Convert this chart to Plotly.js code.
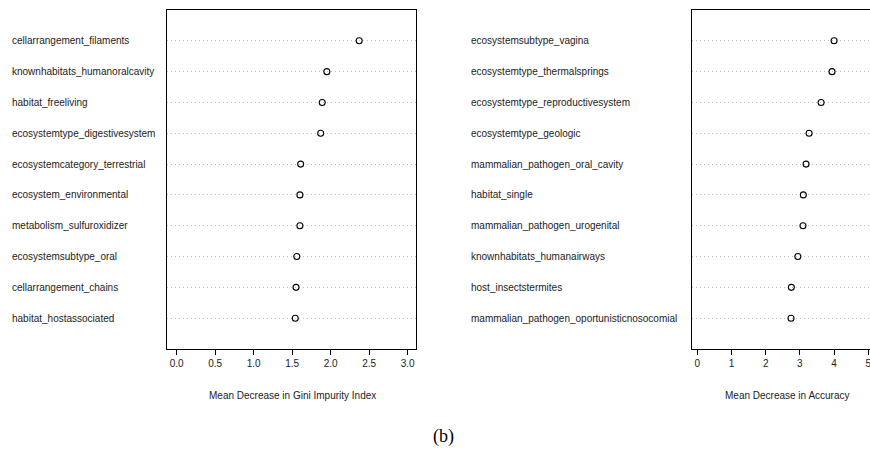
<!DOCTYPE html>
<html>
<head>
<meta charset="utf-8">
<script src="https://cdn.plot.ly/plotly-3.0.1.min.js"></script>
<style>html,body{margin:0;padding:0;background:#fff;}#chart{width:870px;height:451px;}</style>
</head>
<body>
<div id="chart"></div>
<script>
// Left panel: Mean Decrease in Gini Impurity Index (top to bottom)
const giniLabels = [
  "cellarrangement_filaments",
  "knownhabitats_humanoralcavity",
  "habitat_freeliving",
  "ecosystemtype_digestivesystem",
  "ecosystemcategory_terrestrial",
  "ecosystem_environmental",
  "metabolism_sulfuroxidizer",
  "ecosystemsubtype_oral",
  "cellarrangement_chains",
  "habitat_hostassociated"
];
const giniValues = [2.37, 1.95, 1.89, 1.87, 1.61, 1.60, 1.60, 1.56, 1.55, 1.54];

// Right panel: Mean Decrease in Accuracy (top to bottom)
const accLabels = [
  "ecosystemsubtype_vagina",
  "ecosystemtype_thermalsprings",
  "ecosystemtype_reproductivesystem",
  "ecosystemtype_geologic",
  "mammalian_pathogen_oral_cavity",
  "habitat_single",
  "mammalian_pathogen_urogenital",
  "knownhabitats_humanairways",
  "host_insectstermites",
  "mammalian_pathogen_oportunisticnosocomial"
];
const accValues = [4.00, 3.94, 3.62, 3.27, 3.18, 3.10, 3.09, 2.94, 2.75, 2.74];

const giniTicks = [0.0, 0.5, 1.0, 1.5, 2.0, 2.5, 3.0];
const giniTickText = ["0.0", "0.5", "1.0", "1.5", "2.0", "2.5", "3.0"];
const accTicks = [0, 1, 2, 3, 4, 5];
const accTickText = ["0", "1", "2", "3", "4", "5"];

const xTitleGini = "Mean Decrease in Gini Impurity Index";
const xTitleAcc = "Mean Decrease in Accuracy";
const caption = "(b)";

const n = giniLabels.length;
const rowPos = giniLabels.map((_, i) => n - i);

const FONT = "Liberation Sans, Arial, Helvetica, sans-serif";
const FS = 10;
const W = 870, H = 451;

const marker = {symbol: "circle-open", size: 6, color: "#000", line: {width: 1.1, color: "#000"}};

const traces = [
  {type: "scatter", mode: "markers", x: giniValues, y: rowPos, xaxis: "x", yaxis: "y",
   marker: marker, hoverinfo: "x+y", showlegend: false},
  {type: "scatter", mode: "markers", x: accValues, y: rowPos, xaxis: "x2", yaxis: "y2",
   marker: marker, hoverinfo: "x+y", showlegend: false}
];

const yTop = 10, yBot = 349;
const yDomain = [1 - yBot / H, 1 - yTop / H];

const gridAxis = (anchor, mirror) => ({
  domain: yDomain, range: [0, 11], anchor: anchor,
  tickvals: rowPos, showticklabels: false, ticks: "",
  showgrid: true, gridcolor: "#bdbdbd", griddash: "1px,3px", gridwidth: 1,
  zeroline: false, showline: true, linecolor: "#000", linewidth: 1, mirror: mirror,
  fixedrange: true
});

const xAxisBase = (domain, range, vals, text, anchor) => ({
  domain: domain, range: range, anchor: anchor,
  tickvals: vals, ticktext: text, ticks: "outside", ticklen: 5, tickwidth: 1, tickcolor: "#000",
  tickfont: {family: FONT, size: FS, color: "#222"}, ticklabeloverflow: "allow",
  showgrid: false, zeroline: false, showline: true, linecolor: "#000", linewidth: 1,
  mirror: true, fixedrange: true
});

const annotations = [];
giniLabels.forEach((t, i) => annotations.push({
  text: t, xref: "paper", x: 10 / W, xanchor: "left", yref: "y", y: rowPos[i], yanchor: "middle",
  showarrow: false, font: {family: FONT, size: FS, color: "#222"}
}));
accLabels.forEach((t, i) => annotations.push({
  text: t, xref: "paper", x: 469 / W, xanchor: "left", yref: "y2", y: rowPos[i], yanchor: "middle",
  showarrow: false, font: {family: FONT, size: FS, color: "#222"}
}));
annotations.push({text: xTitleGini, xref: "paper", x: 292 / W, xanchor: "center",
  yref: "paper", y: 1 - 395 / H, yanchor: "middle", showarrow: false,
  font: {family: FONT, size: FS, color: "#222"}});
annotations.push({text: xTitleAcc, xref: "paper", x: 787 / W, xanchor: "center",
  yref: "paper", y: 1 - 395 / H, yanchor: "middle", showarrow: false,
  font: {family: FONT, size: FS, color: "#222"}});
annotations.push({text: caption, xref: "paper", x: 443 / W, xanchor: "center",
  yref: "paper", y: 1 - 436 / H, yanchor: "middle", showarrow: false,
  font: {family: "Liberation Serif, DejaVu Serif, serif", size: 18, color: "#000"}});

const layout = {
  width: W, height: H,
  margin: {l: 0, r: 0, t: 0, b: 0, pad: 0},
  paper_bgcolor: "#fff", plot_bgcolor: "#fff",
  showlegend: false,
  xaxis: xAxisBase([167.3 / W, 416 / W], [-0.122, 3.108], giniTicks, giniTickText, "y"),
  yaxis: gridAxis("x", true),
  xaxis2: xAxisBase([691.7 / W, 1], [-0.164, 5.05], accTicks, accTickText, "y2"),
  yaxis2: gridAxis("x2", false),
  annotations: annotations
};

Plotly.newPlot("chart", traces, layout, {displayModeBar: false, staticPlot: true});
</script>
</body>
</html>
